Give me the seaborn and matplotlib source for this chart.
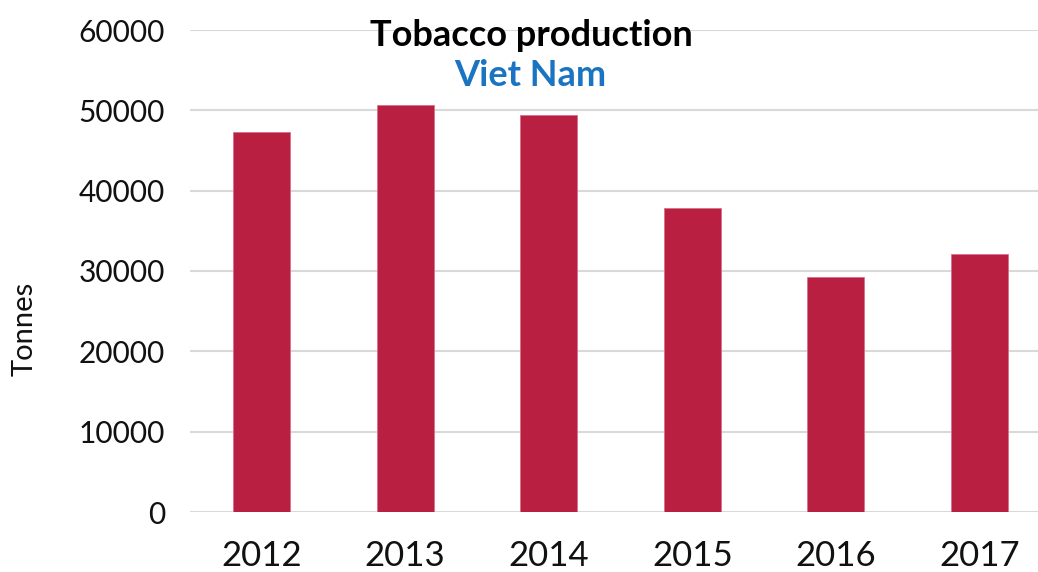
import matplotlib
matplotlib.use("Agg")
import matplotlib.pyplot as plt
import seaborn as sns
import pandas as pd

years = ["2012", "2013", "2014", "2015", "2016", "2017"]
tonnes = [47340, 50620, 49380, 37820, 29210, 32130]
y_ticks = [0, 10000, 20000, 30000, 40000, 50000, 60000]

sns.set_theme(style="white")
plt.rcParams['font.family'] = ['Lato', 'DejaVu Sans']

df = pd.DataFrame({"Year": years, "Tonnes": tonnes})

fig = plt.figure(figsize=(10.38, 5.72), dpi=100)
ax = fig.add_axes([190/1038, 1 - 512/572, 861/1038, (512-30)/572])

sns.barplot(data=df, x="Year", y="Tonnes", color="#B81F41", width=0.40,
            saturation=1, ax=ax, zorder=3, edgecolor="#D9708A", linewidth=0.6)

ax.set_ylim(0, 60000)
ax.set_xlim(-0.5, 5.5)
ax.set_yticks(y_ticks)
ax.set_yticklabels([str(v) for v in y_ticks], fontsize=21.5, color="#111111")
ax.tick_params(axis='y', length=0, pad=18)
ax.tick_params(axis='x', length=0, pad=20, labelsize=25, labelcolor="#111111")
ax.yaxis.grid(True, color="#D9D9D9", linewidth=1.5, zorder=0)
ax.xaxis.grid(False)
for s in ax.spines.values():
    s.set_visible(False)
ax.set_xlabel("")
ax.set_ylabel("")
fig.text(25/1038, 1 - 329/572, "Tonnes", rotation=90, ha="center", va="center",
         fontsize=21, color="#111111")

fig.text(531/1038, 1 - 36/572, "Tobacco production", ha="center", va="center",
         fontsize=26, fontweight="bold", color="#000000")
fig.text(530/1038, 1 - 75/572, "Viet Nam", ha="center", va="center",
         fontsize=26, fontweight="bold", color="#1B74C2")

fig.savefig("out.png", dpi=100)
